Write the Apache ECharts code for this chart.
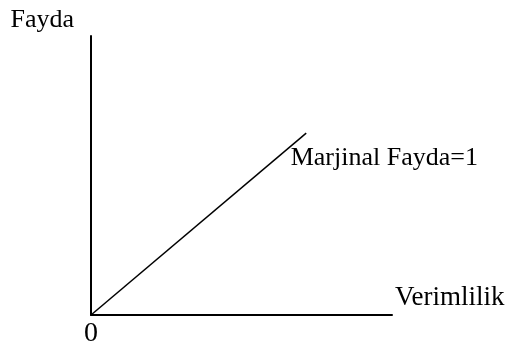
<!DOCTYPE html>
<html>
<head>
<meta charset="utf-8">
<script src="https://cdn.jsdelivr.net/npm/echarts@6/dist/echarts.min.js"></script>
<style>
  html, body { margin: 0; padding: 0; background: #fff; }
  #chart { width: 508px; height: 345px; }
</style>
</head>
<body>
<div id="chart"></div>
<script>
// veriler
const xValues = [0, 7.15];
const yValues = [0, 6.52];
const xName = 'Verimlilik';
const yName = 'Fayda';
const lineLabel = 'Marjinal Fayda=1';
const originLabel = '0';

const font = '"Liberation Serif", "Times New Roman", serif';

const chart = echarts.init(document.getElementById('chart'));

const points = xValues.map((x, i) => {
    const item = { value: [x, yValues[i]] };
    if (i === xValues.length - 1) {
        item.label = {
            show: true,
            formatter: lineLabel,
            position: [-15, 13],
            color: '#000',
            fontFamily: font,
            fontSize: 26,
            lineHeight: 26
        };
    }
    return item;
});

const option = {
    animation: false,
    // outerBoundsMode none: etiketler grid'i küçültmesin
    grid: { left: 91, top: 36, right: 116, bottom: 30, outerBoundsMode: 'none', containLabel: false },
    xAxis: {
        type: 'value',
        min: 0,
        max: 10,
        interval: 10,
        name: xName,
        nameLocation: 'end',
        nameGap: 3,
        nameTextStyle: {
            color: '#000', fontFamily: font, fontSize: 27, lineHeight: 27,
            align: 'left', verticalAlign: 'bottom', padding: [0, 0, 4, 0]
        },
        axisLine: { show: true, lineStyle: { color: '#000', width: 2 } },
        axisTick: { show: false },
        splitLine: { show: false },
        axisLabel: {
            margin: 5,
            color: '#000', fontFamily: font, fontSize: 28,
            formatter: v => (v === 0 ? originLabel : '')
        }
    },
    yAxis: {
        type: 'value',
        min: 0,
        max: 10,
        name: yName,
        nameLocation: 'end',
        nameGap: 3,
        nameTextStyle: {
            color: '#000', fontFamily: font, fontSize: 26, lineHeight: 26,
            align: 'right', verticalAlign: 'bottom', padding: [0, 17, 0, 0]
        },
        axisLine: { show: true, lineStyle: { color: '#000', width: 2 } },
        axisTick: { show: false },
        splitLine: { show: false },
        axisLabel: { show: false }
    },
    series: [{
        type: 'line',
        data: points,
        symbol: 'circle',
        symbolSize: 1,
        showSymbol: true,
        silent: true,
        itemStyle: { color: 'rgba(0,0,0,0)' },
        lineStyle: { color: '#000', width: 1.5 }
    }]
};

chart.setOption(option);
</script>
</body>
</html>
